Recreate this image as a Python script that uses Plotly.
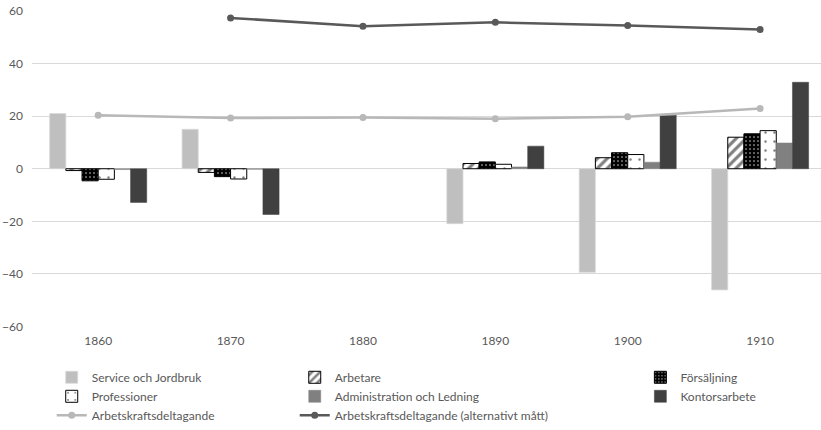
import plotly.graph_objects as go

years = ["1860", "1870", "1880", "1890", "1900", "1910"]
service = [21.0, 15.0, None, -20.9, -39.4, -46.1]
arbetare = [-0.7, -1.4, None, 2.0, 4.2, 12.0]
forsaljning = [-4.6, -3.0, None, 2.6, 6.1, 13.3]
professioner = [-4.0, -3.9, None, 1.7, 5.4, 14.5]
administration = [-0.3, -0.2, None, 0.7, 2.5, 9.8]
kontor = [-12.8, -17.4, None, 8.6, 20.4, 32.9]
deltagande = [20.4, 19.3, 19.5, 19.0, 19.8, 22.9]
deltagande_alt = [None, 57.4, 54.2, 55.7, 54.5, 53.0]
y_ticks = [-60, -40, -20, 0, 20, 40, 60]

FONT = "Lato"
TXT = "#595959"
W, H = 821, 430

fig = go.Figure()

fig.add_bar(x=years, y=service, name="Service och Jordbruk", legend="legend",
            marker=dict(color="#bfbfbf", line=dict(color="#d9d9d9", width=0.8)))
fig.add_bar(x=years, y=arbetare, name="Arbetare", legend="legend2",
            marker=dict(color="white", line=dict(color="black", width=1),
                        pattern=dict(shape="/", fgcolor="black", bgcolor="white", size=7, solidity=0.45)))
fig.add_bar(x=years, y=forsaljning, name="Försäljning", legend="legend3",
            marker=dict(color="black", line=dict(color="black", width=1),
                        pattern=dict(shape=".", fgcolor="white", bgcolor="black", size=4, solidity=0.2)))
fig.add_bar(x=years, y=professioner, name="Professioner", legend="legend",
            marker=dict(color="white", line=dict(color="black", width=1),
                        pattern=dict(shape=".", fgcolor="black", bgcolor="white", size=9, solidity=0.06)))
fig.add_bar(x=years, y=administration, name="Administration och Ledning", legend="legend2",
            marker=dict(color="#808080", line=dict(color="#808080", width=0.5)))
fig.add_bar(x=years, y=kontor, name="Kontorsarbete", legend="legend3",
            marker=dict(color="#404040", line=dict(color="#404040", width=0.5)))
fig.add_scatter(x=years, y=deltagande, name="Arbetskraftsdeltagande", legend="legend",
                mode="lines+markers", line=dict(color="#b8b8b8", width=2.5),
                marker=dict(color="#b8b8b8", size=7))
fig.add_scatter(x=years, y=deltagande_alt, name="Arbetskraftsdeltagande (alternativt mått)", legend="legend2",
                mode="lines+markers", line=dict(color="#595959", width=2.5),
                marker=dict(color="#595959", size=7))

leg_common = dict(orientation="v", yanchor="top", xanchor="left", y=0.130,
                  font=dict(family=FONT, size=12, color=TXT), bgcolor="rgba(0,0,0,0)",
                  traceorder="normal", tracegroupgap=0)

fig.update_layout(
    width=W, height=H,
    margin=dict(l=0, r=0, t=0, b=0),
    paper_bgcolor="white", plot_bgcolor="white",
    barmode="group", bargap=0.267, bargroupgap=0,
    font=dict(family=FONT, size=12, color=TXT),
    legend=dict(x=0.063, **leg_common),
    legend2=dict(x=0.359, **leg_common),
    legend3=dict(x=0.780, **leg_common),
    xaxis=dict(type="category", domain=[32 / W, 1], range=[-0.5, 5.46], showgrid=False, showline=False,
               ticks="", automargin=False,
               tickfont=dict(family=FONT, size=12, color=TXT), ticklabelstandoff=6),
    yaxis=dict(range=[-60, 60], domain=[(H - 336.6) / H, (H - 11.4) / H], tickvals=y_ticks,
               showgrid=True, gridcolor="#d9d9d9", gridwidth=1,
               zeroline=True, zerolinecolor="#d9d9d9", zerolinewidth=1, showline=False, ticks="",
               automargin=False,
               tickfont=dict(family=FONT, size=12, color=TXT), ticklabelstandoff=8),
)

page_fix = (
    "document.documentElement.style.margin='0';"
    "document.documentElement.style.overflow='hidden';"
    "document.body.style.margin='0';"
    "document.body.style.overflow='hidden';"
    "document.body.style.height='430px';"
    "var g=document.querySelector('.plotly-graph-div');"
    "if(g){g.style.display='block';if(g.parentElement){g.parentElement.style.lineHeight='0';"
    "g.parentElement.style.height='430px';}}"
)

fig.write_html("out.html", config={"displayModeBar": False}, post_script=page_fix)
